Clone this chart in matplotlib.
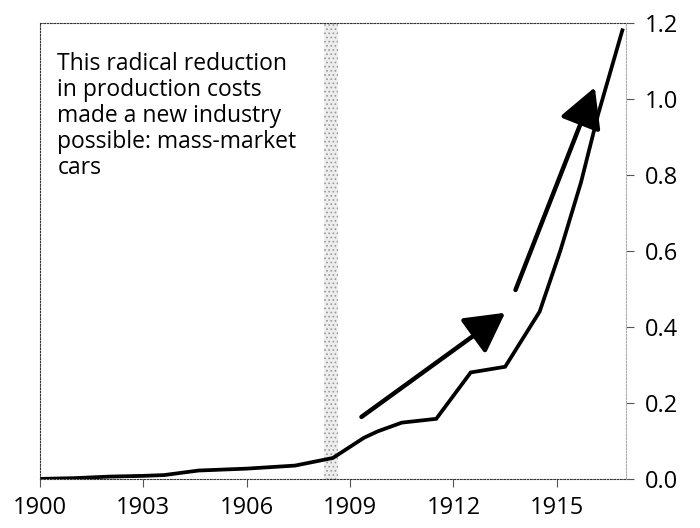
import matplotlib.pyplot as plt

plt.rcParams['font.family'] = ['Open Sans', 'DejaVu Sans']

years = [1900, 1901, 1902, 1903, 1903.6, 1904.6, 1906, 1907.4, 1908.5, 1909.4,
         1909.8, 1910.5, 1911.5, 1912.5, 1913.5, 1914.5, 1915.1, 1915.7, 1916.2, 1916.9]
values = [0.0, 0.002, 0.006, 0.008, 0.01, 0.022, 0.027, 0.035, 0.055, 0.108,
          0.125, 0.148, 0.158, 0.28, 0.295, 0.44, 0.6, 0.78, 0.96, 1.18]

x_ticks = [1900, 1903, 1906, 1909, 1912, 1915]
y_ticks = [0.0, 0.2, 0.4, 0.6, 0.8, 1.0, 1.2]

band = (1908.25, 1908.65)
arrow_1 = ((1909.33, 0.163), (1913.5, 0.437))
arrow_2 = ((1913.8, 0.497), (1916.1, 1.03))

note = ("This radical reduction\nin production costs\nmade a new industry\n"
        "possible: mass-market\ncars")

fig = plt.figure(figsize=(7, 5.28), dpi=100)
ax = fig.add_axes([0.057, 0.093, 0.837, 0.864])

# stippled band
plt.rcParams['hatch.linewidth'] = 0.7
ax.axvspan(band[0], band[1], facecolor='#ededed', edgecolor='#999999', hatch='....', lw=0)
ax.plot(years, values, color='black', lw=2.7, solid_joinstyle='miter')

for tail, tip in [arrow_1, arrow_2]:
    ax.annotate('', xy=tip, xytext=tail,
                arrowprops=dict(arrowstyle='-|>,head_length=1.1,head_width=0.6',
                                color='black', lw=3.2, mutation_scale=22,
                                shrinkA=0, shrinkB=0))

ax.text(0.03, 0.935, note, transform=ax.transAxes, fontsize=16.5,
        va='top', ha='left', linespacing=1.1)

ax.set_xlim(1900, 1917)
ax.set_ylim(0, 1.2)
ax.set_xticks(x_ticks)
ax.set_xticklabels([str(y) for y in x_ticks])
ax.set_yticks(y_ticks)
ax.set_yticklabels([f'{v:.1f}' for v in y_ticks])

ax.yaxis.tick_right()
ax.tick_params(axis='y', length=6, width=0.8, pad=8, labelsize=17, colors='#555555',
               labelcolor='black')
ax.tick_params(axis='x', length=6, width=0.8, pad=6, labelsize=17, colors='#555555',
               labelcolor='black')

for side in ['top', 'bottom', 'left', 'right']:
    ax.spines[side].set_linestyle((0, (1.5, 1.5)))
    ax.spines[side].set_linewidth(0.8)
    ax.spines[side].set_color('#333333')
ax.spines['right'].set_color('#aaaaaa')

fig.savefig('out.png', dpi=100)
